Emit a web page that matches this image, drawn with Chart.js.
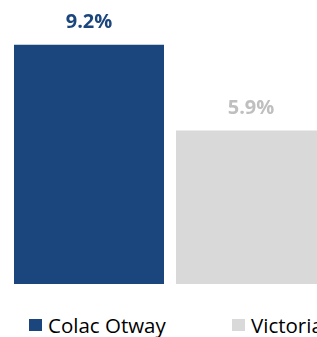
<!DOCTYPE html>
<html>
<head>
<meta charset="utf-8">
<script src="https://cdn.jsdelivr.net/npm/chart.js@4"></script>
<style>
  html, body { margin: 0; padding: 0; background: #fff; overflow: hidden; }
  #wrap { position: relative; width: 350px; height: 337px; }
  #caja { width: 350px; height: 290px; }
  #leyenda { position: absolute; top: 313px; left: 0; width: 350px; height: 24px;
             font-family: "Open Sans"; font-size: 20.5px; line-height: 24px; color: #000; }
  #leyenda .item { position: absolute; top: 0; display: flex; align-items: center; white-space: nowrap; }
  #leyenda .cuadro { width: 13px; height: 12px; margin-right: 6px; }
</style>
</head>
<body>
<div id="wrap">
  <div id="caja"><canvas id="myChart"></canvas></div>
  <div id="leyenda"></div>
</div>
<script>
const categorias = [''];
const serieColac = [9.2];
const serieVictoria = [5.9];
const nombres = ['Colac Otway', 'Victoria'];
const colores = ['#1B467D', '#D9D9D9'];
const coloresTexto = ['#1B467D', '#BFBFBF'];
const posLeyenda = [29, 232];

const etiquetas = {
    id: 'etiquetas',
    afterDatasetsDraw(chart) {
        const ctx = chart.ctx;
        ctx.save();
        ctx.font = 'bold 20px "Open Sans"';
        ctx.textAlign = 'center';
        ctx.textBaseline = 'alphabetic';
        chart.data.datasets.forEach((ds, i) => {
            const meta = chart.getDatasetMeta(i);
            meta.data.forEach((bar, j) => {
                ctx.fillStyle = coloresTexto[i];
                ctx.fillText(ds.data[j].toFixed(1) + '%', bar.x, bar.y - 17);
            });
        });
        ctx.restore();
    }
};

const data = {
    labels: categorias,
    datasets: [
        { label: nombres[0], data: serieColac, backgroundColor: colores[0] },
        { label: nombres[1], data: serieVictoria, backgroundColor: colores[1] }
    ]
};

const myChart = new Chart(document.getElementById('myChart'), {
    type: 'bar',
    data,
    options: {
        responsive: true,
        maintainAspectRatio: false,
        animation: false,
        layout: { padding: { left: 8, right: 18, top: 24, bottom: 6 } },
        categoryPercentage: 1,
        barPercentage: 0.926,
        scales: {
            x: { display: false },
            y: { display: false, min: 0, max: 10 }
        },
        plugins: {
            tooltip: { enabled: false },
            legend: { display: false }
        }
    },
    plugins: [etiquetas]
});

function leyenda(chart) {
    const div = document.getElementById('leyenda');
    const items = chart.options.plugins.legend.labels.generateLabels(chart);
    items.forEach((item, i) => {
        const el = document.createElement('div');
        el.className = 'item';
        el.style.left = posLeyenda[i] + 'px';
        const cuadro = document.createElement('span');
        cuadro.className = 'cuadro';
        cuadro.style.background = item.fillStyle;
        const texto = document.createElement('span');
        texto.textContent = item.text;
        el.appendChild(cuadro);
        el.appendChild(texto);
        div.appendChild(el);
    });
}
leyenda(myChart);
</script>
</body>
</html>
